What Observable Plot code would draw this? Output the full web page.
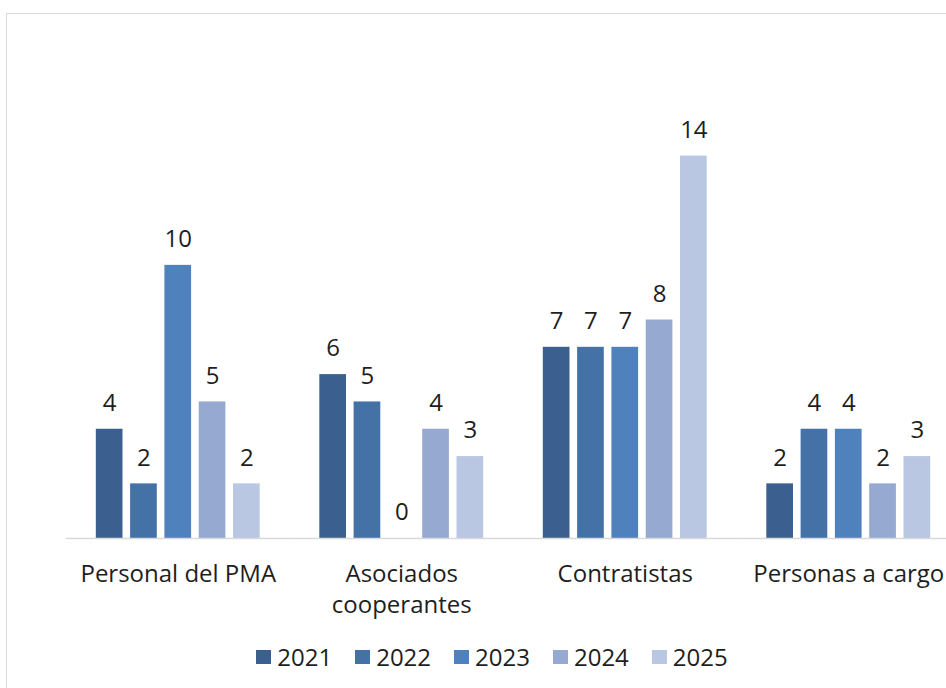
<!DOCTYPE html>
<html>
<head>
<meta charset="utf-8">
<script src="https://cdn.jsdelivr.net/npm/d3@7"></script>
<script src="https://cdn.jsdelivr.net/npm/@observablehq/plot@0.6"></script>
<style>
  html, body { margin: 0; padding: 0; background: #fff; overflow: hidden; width: 946px; height: 688px; }
  #frame { position: absolute; left: 6px; top: 13px; width: 970px; height: 700px; border: 1px solid #d9d9d9; background: #fff; font-family: "Open Sans", sans-serif; }
  #chart svg { display: block; }
  #legend { position: absolute; top: 626px; left: 0px; width: 970px; display: flex; justify-content: center; gap: 23px; font-size: 24px; color: #1e1e1e; }
  .item { display: flex; align-items: center; }
  .sw { width: 15px; height: 14px; margin-right: 6px; }
</style>
</head>
<body>
<div id="frame">
  <div id="chart"></div>
  <div id="legend"></div>
</div>
<script>
const categories = ["Personal del PMA", "Asociados cooperantes", "Contratistas", "Personas a cargo"];
const categoryLabels = ["Personal del PMA", "Asociados\ncooperantes", "Contratistas", "Personas a cargo"];
const years = ["2021", "2022", "2023", "2024", "2025"];
const v2021 = [4, 6, 7, 2];
const v2022 = [2, 5, 7, 4];
const v2023 = [10, 0, 7, 4];
const v2024 = [5, 4, 8, 2];
const v2025 = [2, 3, 14, 3];
const colors = ["#3b608f", "#4472a7", "#4f81bd", "#95a9d1", "#b9c7e2"];

const series = [v2021, v2022, v2023, v2024, v2025];
const data = [];
categories.forEach((c, i) => years.forEach((y, j) => data.push({cat: c, year: y, value: series[j][i]})));
const labelOf = Object.fromEntries(categories.map((c, i) => [c, categoryLabels[i]]));

const chart = Plot.plot({
  width: 970,
  height: 612,
  marginLeft: 59,
  marginRight: 17,
  marginTop: 87,
  marginBottom: 88,
  style: {fontFamily: "Open Sans, sans-serif", fontSize: "24px", color: "#1e1e1e", background: "#fff"},
  fx: {domain: categories, padding: 0, round: false, axis: null},
  x: {domain: years, paddingInner: 0.222, paddingOuter: 0.869, round: false, axis: null},
  y: {domain: [0, 16], axis: null},
  color: {domain: years, range: colors},
  marks: [
    Plot.barY(data, {fx: "cat", x: "year", y: "value", fill: "year"}),
    Plot.ruleY([0], {stroke: "#d9d9d9", strokeWidth: 1.5}),
    Plot.text(data, {fx: "cat", x: "year", y: "value", text: d => String(d.value), dy: -26, fontSize: 24, fill: "#1e1e1e"}),
    Plot.text(categories, {fx: d => d, text: d => labelOf[d], frameAnchor: "bottom", lineAnchor: "top", dy: 22, lineHeight: 1.29, fontSize: 24, fill: "#1e1e1e"})
  ]
});
document.getElementById("chart").appendChild(chart);

const legend = document.getElementById("legend");
years.forEach((y, j) => {
  const it = document.createElement("div");
  it.className = "item";
  const sw = document.createElement("span");
  sw.className = "sw";
  sw.style.background = colors[j];
  const t = document.createElement("span");
  t.textContent = y;
  it.appendChild(sw); it.appendChild(t);
  legend.appendChild(it);
});
</script>
</body>
</html>
